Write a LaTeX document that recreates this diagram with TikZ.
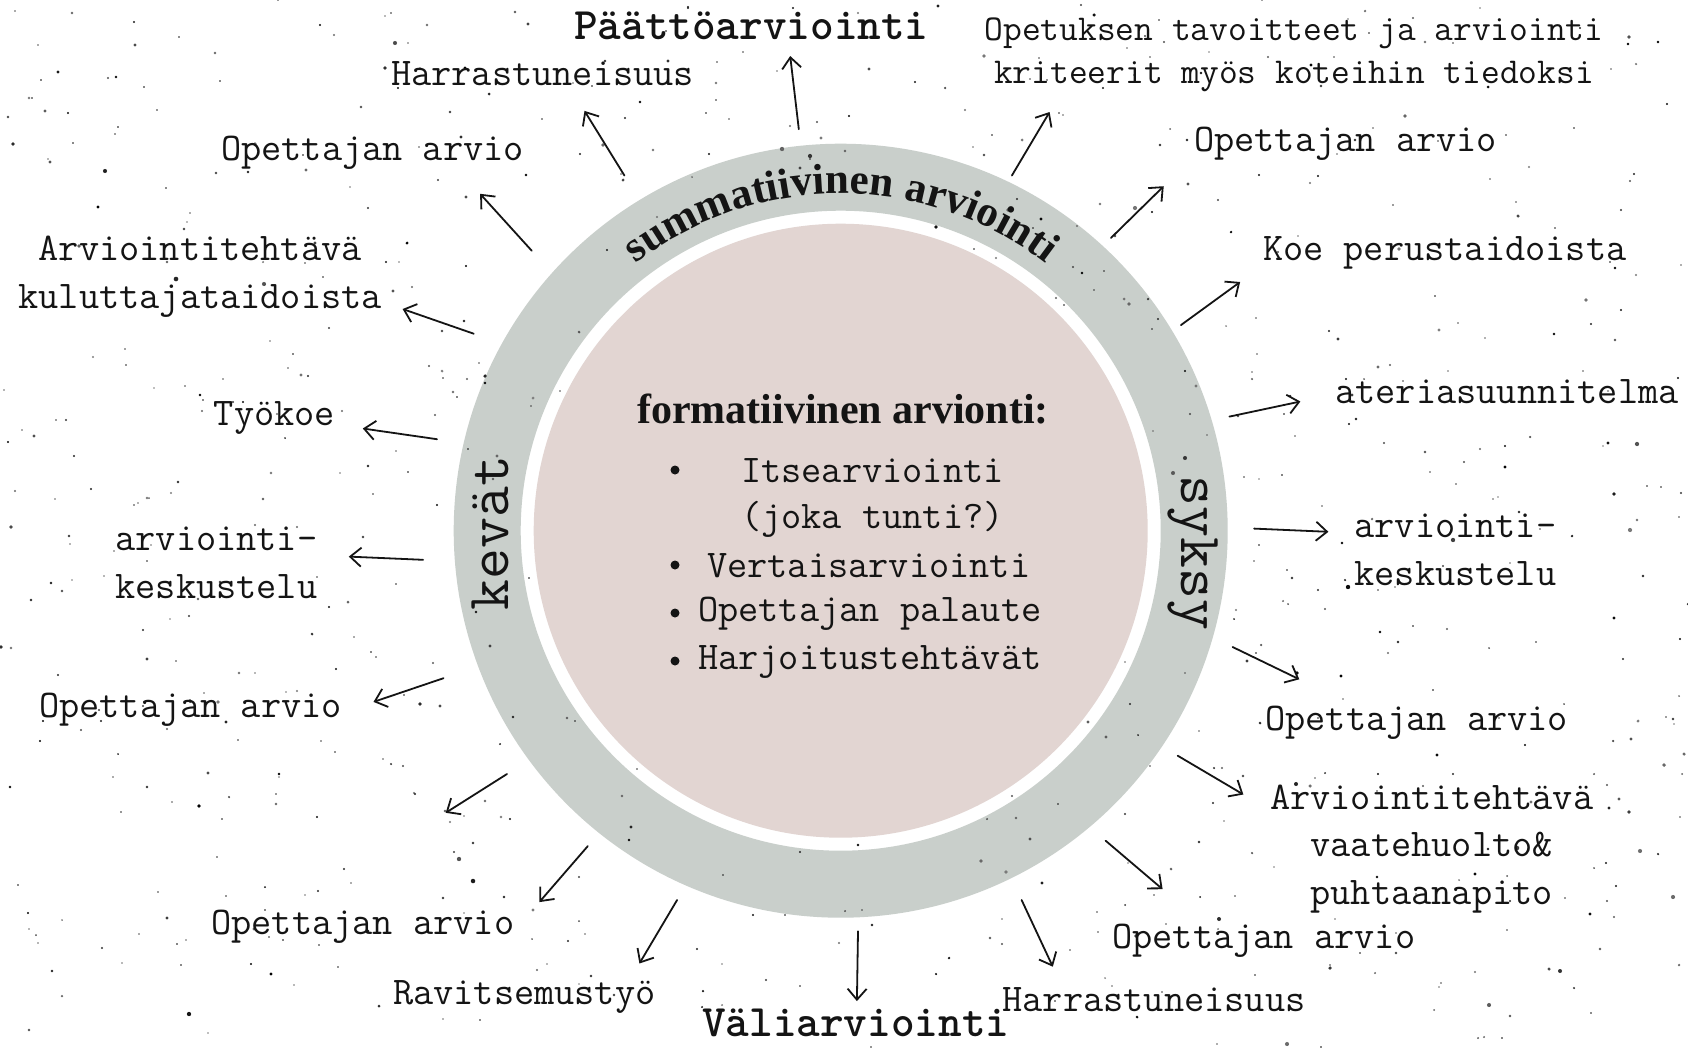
\documentclass[tikz,border=0pt]{standalone}
\usepackage{fontspec}
\setmainfont{Liberation Serif}
\setmonofont{Latin Modern Mono}
\newfontfamily\hdrmono{lmmonolt10-bold.otf}
\usetikzlibrary{arrows.meta,decorations.text}
\definecolor{ringgray}{RGB}{201,207,203}
\definecolor{innerpink}{RGB}{226,213,210}
\definecolor{ink}{RGB}{20,20,20}
\begin{document}
\begin{tikzpicture}[x=1pt,y=-1pt,
  lbl/.style={font=\ttfamily\fontsize{39.2}{47.5}\selectfont, text=ink, inner sep=0pt, align=center},
  smalllbl/.style={font=\ttfamily\fontsize{36.4}{43}\selectfont, text=ink, inner sep=0pt, align=center},
  hdr/.style={font=\hdrmono\fontsize{45}{50}\selectfont, text=ink, inner sep=0pt},
  season/.style={font=\ttfamily\fontsize{60}{66}\selectfont, text=ink, inner sep=0pt},
  item/.style={font=\ttfamily\fontsize{39.2}{47.5}\selectfont, text=ink, inner sep=0pt, anchor=west},
  arr/.style={draw=ink, line width=1.8pt, line cap=round, -{Straight Barb[length=11pt,width=19pt,line width=1.8pt]}},
]
\useasboundingbox (0,0) rectangle (1688,1047);
\fill[white] (0,0) rectangle (1688,1047);

% ring and inner disc
\coordinate (c) at (840.7,530.7);
\fill[ringgray, even odd rule] (c) circle[radius=387] (c) circle[radius=320];
\fill[innerpink] (c) circle[radius=307];

% speckles
\pgfmathsetseed{1234}
\foreach \k in {1,...,850}{
  \pgfmathsetmacro{\px}{random(0,1688)}
  \pgfmathsetmacro{\py}{random(0,1047)}
  \pgfmathsetmacro{\pd}{veclen((\px-840.7)/10,(\py-530.7)/10)}
  \pgfmathsetmacro{\pr}{0.8+1.6*rnd*rnd}
  \pgfmathsetmacro{\pk}{int(50+50*rnd)}
  \ifdim \pd pt > 31pt
    \fill[black!\pk] (\px,\py) circle[radius=\pr];
  \fi
}

% curved title
\begin{scope}[y=1pt]
\path[decorate, decoration={text along path, text align=center,
  text={|\color{ink}\rmfamily\bfseries\fontsize{43}{43}\selectfont|summatiivinen arviointi}}]
  (840.7,-530.7) ++(140:337) arc[start angle=140, end angle=40, radius=337];
\end{scope}

% seasons
\node[season, rotate=90] (kevat) at (490,533) {kevät};
\node[season, rotate=-90] (syksy) at (1193,553) {syksy};

% centre content
\node[font=\rmfamily\bfseries\fontsize{42}{48}\selectfont, text=ink, inner sep=0pt] (ftitle) at (843,409) {formatiivinen arvionti:};
\fill[ink] (675,470) circle[radius=4.5];
\fill[ink] (675,565) circle[radius=4.5];
\fill[ink] (675,613) circle[radius=4.5];
\fill[ink] (675,661) circle[radius=4.5];
\node[item] (i1) at (741,471) {Itsearviointi};
\node[item] (i2) at (741,519) {(joka tunti?)};
\node[item] (i3) at (707,566) {Vertaisarviointi};
\node[item] (i4) at (698,614) {Opettajan palaute};
\node[item] (i5) at (698,662) {Harjoitustehtävät};

% labels
\node[lbl] (l1) at (542.6,74) {Harrastuneisuus};
\node[hdr] (l2) at (751.4,26) {Päättöarviointi};
\node[smalllbl] (l3) at (1294,55) {Opetuksen tavoitteet ja arviointi\\kriteerit myös koteihin tiedoksi};
\node[lbl] (l4) at (1345.6,144) {Opettajan arvio};
\node[lbl] (l5) at (1444.7,253) {Koe perustaidoista};
\node[lbl] (l6) at (1507,392) {ateriasuunnitelma};
\node[lbl] (l7) at (1455.4,550) {arviointi-\\keskustelu};
\node[lbl] (l8) at (1416.7,722.5) {Opettajan arvio};
\node[lbl] (l9) at (1431.7,849) {Arviointitehtävä\\vaatehuolto\&\\puhtaanapito};
\node[lbl] (l10) at (1263.8,941) {Opettajan arvio};
\node[lbl] (l11) at (1154,1000) {Harrastuneisuus};
\node[hdr] (l12) at (855.8,1023) {Väliarviointi};
\node[lbl] (l13) at (524.3,997) {Ravitsemustyö};
\node[lbl] (l14) at (362.8,927) {Opettajan arvio};
\node[lbl] (l16) at (190.5,709.5) {Opettajan arvio};
\node[lbl] (l17) at (216.4,563) {arviointi-\\keskustelu};
\node[lbl] (l18) at (274.5,418) {Työkoe};
\node[lbl] (l19) at (200.2,276.5) {Arviointitehtävä\\kuluttajataidoista};
\node[lbl] (l20) at (372.5,153) {Opettajan arvio};

% arrow end points
\coordinate (a1s) at (624.4,175.5);  \coordinate (a1e) at (584.5,110.9);
\coordinate (a2s) at (798.8,129.2);  \coordinate (a2e) at (790.2,56);
\coordinate (a3s) at (1011.9,175.5); \coordinate (a3e) at (1049.6,112);
\coordinate (a4s) at (1111,237.9);   \coordinate (a4e) at (1163.7,186.2);
\coordinate (a5s) at (1180.9,325.1); \coordinate (a5e) at (1240.1,282);
\coordinate (a6s) at (1229.4,416.6); \coordinate (a6e) at (1300.4,401.5);
\coordinate (a7s) at (1254.1,528.6); \coordinate (a7e) at (1328.4,531.8);
\coordinate (a8s) at (1232.6,647);   \coordinate (a8e) at (1299.3,679.3);
\coordinate (a9s) at (1177.7,755.7); \coordinate (a9e) at (1243.4,794.5);
\coordinate (a10s) at (1105.6,840.7); \coordinate (a10e) at (1162.6,889.2);
\coordinate (a11s) at (1021.6,900);  \coordinate (a11e) at (1052.8,966.7);
\coordinate (a12s) at (858,931.2);   \coordinate (a12e) at (856.9,1001.1);
\coordinate (a13s) at (677.1,900);   \coordinate (a13e) at (639.4,963.5);
\coordinate (a14s) at (587.8,846.1); \coordinate (a14e) at (539.3,902.1);
\coordinate (a15s) at (507,774);     \coordinate (a15e) at (445.7,812.8);
\coordinate (a16s) at (443.5,678.2); \coordinate (a16e) at (373.5,701.9);
\coordinate (a17s) at (423.1,559.8); \coordinate (a17e) at (348.8,556.6);
\coordinate (a18s) at (437,439.2);   \coordinate (a18e) at (362.8,428.5);
\coordinate (a19s) at (473.7,333.7); \coordinate (a19e) at (402.6,309);
\coordinate (a20s) at (531.8,250.8); \coordinate (a20e) at (480.1,193.8);

\foreach \n in {1,...,20}{
  \draw[arr] (a\n s) -- (a\n e);
}
\end{tikzpicture}
\end{document}
